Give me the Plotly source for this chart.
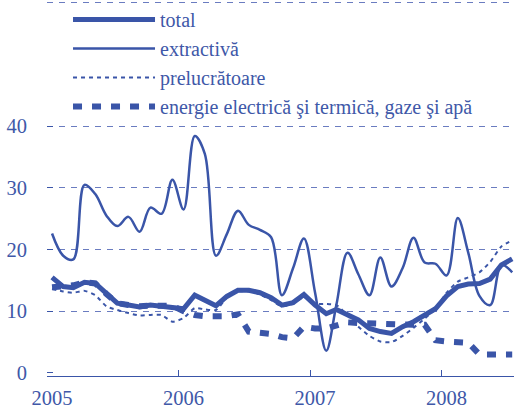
import pandas as pd
import plotly.graph_objects as go

# monthly series, Jan 2005 - Jul 2008 (%)
months = pd.date_range("2005-01-01", periods=43, freq="MS") + pd.Timedelta(days=14)

total = [15.5, 14.0, 13.8, 14.7, 14.5, 12.8, 11.3, 11.0, 10.7, 11.0, 10.8, 10.5,
         10.4, 12.6, 11.8, 10.9, 12.4, 13.4, 13.4, 13.0, 12.2, 11.0, 11.4, 12.7,
         11.0, 9.6, 10.3, 9.5, 8.6, 7.2, 6.7, 6.4, 7.5, 8.3, 9.3, 10.4,
         12.5, 14.0, 14.4, 14.5, 15.2, 17.5, 18.5]

extractiva = [22.6, 19.0, 18.4, 30.5, 29.0, 25.5, 23.8, 25.3, 22.9, 26.8, 25.8, 31.3,
              26.5, 38.4, 35.5, 19.0, 22.5, 26.3, 24.0, 23.2, 22.0, 12.6, 17.0, 21.8,
              13.0, 3.6, 11.0, 19.5, 16.0, 12.6, 18.7, 14.0, 17.0, 21.9, 17.9, 17.7,
              15.8, 25.1, 19.5, 12.5, 11.0, 17.5, 16.3]

prelucratoare = [13.6, 13.2, 13.0, 13.3, 12.6, 10.8, 10.2, 9.7, 9.3, 9.4, 9.4, 8.3,
                 8.9, 10.5, 10.3, 10.2, 12.2, 13.2, 13.2, 12.7, 11.8, 10.8, 11.2, 12.3,
                 11.2, 11.2, 11.0, 9.3, 7.5, 6.0, 5.1, 5.0, 6.0, 7.3, 8.8, 10.4,
                 13.0, 14.8, 15.5, 16.3, 18.0, 20.5, 21.5]

energie = [13.9, 14.0, 14.2, 14.7, 14.5, 12.8, 11.3, 11.0, 10.8, 10.9, 10.9, 10.9,
           10.0, 9.4, 9.2, 9.1, 9.2, 9.5, 6.7, 6.5, 6.3, 5.8, 5.6, 7.5,
           7.2, 7.2, 7.6, 8.2, 8.1, 8.0, 7.9, 7.8, 7.8, 7.8, 7.8, 5.3,
           5.1, 5.0, 4.9, 3.0, 3.0, 3.0, 3.0]

blue = "#3a55a8"
text_blue = "#4058a8"
font = "Liberation Serif, Times New Roman, DejaVu Serif, serif"

fig = go.Figure()

# draw order: energy at the bottom, total on top
fig.add_trace(go.Scatter(x=months, y=energie, mode="lines",
                         name="energie electrică şi termică, gaze şi apă",
                         line=dict(color=blue, width=6, dash="9px,10px"),
                         legendrank=4))
fig.add_trace(go.Scatter(x=months, y=prelucratoare, mode="lines", name="prelucrătoare",
                         line=dict(color=blue, width=2, dash="4px,4px", shape="spline", smoothing=0.6),
                         legendrank=3))
fig.add_trace(go.Scatter(x=months, y=extractiva, mode="lines", name="extractivă",
                         line=dict(color=blue, width=2.5, shape="spline", smoothing=1),
                         legendrank=2))
fig.add_trace(go.Scatter(x=months, y=total, mode="lines", name="total",
                         line=dict(color=blue, width=5),
                         legendrank=1))

fig.update_layout(
    width=514, height=407,
    margin=dict(l=47, r=0, t=0, b=31),
    plot_bgcolor="white", paper_bgcolor="white",
    font=dict(family=font, size=20.5, color=text_blue),
    showlegend=True,
    legend=dict(x=0.045, y=1.003, xanchor="left", yanchor="top",
                bgcolor="rgba(0,0,0,0)", itemwidth=82,
                font=dict(family=font, size=20, color=text_blue),
                traceorder="normal"),
)

fig.update_xaxes(
    range=["2005-01-01", "2008-07-20"],
    dtick="M12", tick0="2005-01-01", tickformat="%Y",
    showgrid=False, zeroline=False, automargin=False,
    showline=True, linecolor=blue, linewidth=1,
    ticks="inside", ticklen=6, tickcolor=blue,
    ticklabelshift=5, ticklabelstandoff=3,
)

fig.update_yaxes(
    range=[-0.5, 60.3],
    tickvals=[0, 10, 20, 30, 40],
    showgrid=False, zeroline=False, showline=False, automargin=False,
    ticks="inside", ticklen=6, tickcolor=blue,
    ticklabelstandoff=19,
    minor=dict(tickvals=[10, 20, 30, 40, 60], showgrid=True,
               gridcolor="#6a7cc0", griddash="6px,6px", gridwidth=1, ticks=""),
)

# page body has a default 8px margin; drop it so the figure sits at the window corner
fig.write_html("out.html", config={"displayModeBar": False},
               post_script="document.body.style.margin='0';")
